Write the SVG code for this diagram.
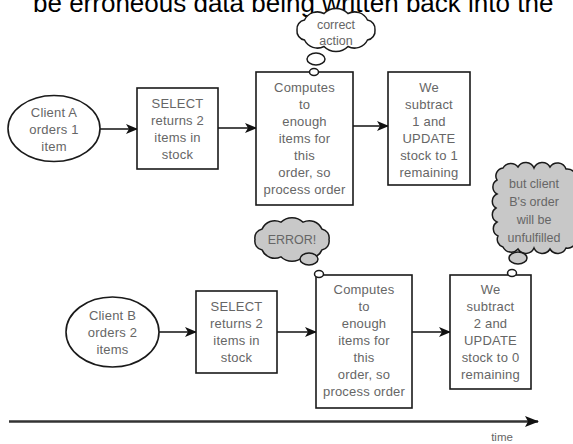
<svg xmlns="http://www.w3.org/2000/svg" width="573" height="444" viewBox="0 0 573 444">
<style>
.box{fill:#fff;stroke:#1a1a1a;stroke-width:1.6}
.cloudW{fill:#fff;stroke:#1a1a1a;stroke-width:1.5}
.cloudG{fill:#c8c8c8;stroke:#1a1a1a;stroke-width:1.5}
.t{font-family:"Liberation Sans",Arial,sans-serif;font-size:13px;letter-spacing:0.2px;fill:#666;text-anchor:middle}
.c{font-family:"Liberation Sans",Arial,sans-serif;font-size:12.5px;fill:#666;text-anchor:middle}
.title{font-family:"Liberation Sans",Arial,sans-serif;font-size:26px;fill:#000}
.conn{stroke:#111;stroke-width:1.6;fill:none;marker-end:url(#ah)}
.axis{stroke:#333;stroke-width:2.5;fill:none;marker-end:url(#ahBig)}
</style>
<defs>
<marker id="ah" viewBox="0 0 12 10" refX="11" refY="5" markerWidth="12" markerHeight="10" markerUnits="userSpaceOnUse" orient="auto">
<path d="M0,0 L12,5 L0,10 L3,5 Z" fill="#111"/>
</marker>
<marker id="ahBig" viewBox="0 0 14 11" refX="13" refY="5.5" markerWidth="14" markerHeight="11" markerUnits="userSpaceOnUse" orient="auto">
<path d="M0,0 L14,5.5 L0,11 L3,5.5 Z" fill="#111"/>
</marker>
</defs>
<rect width="573" height="444" fill="#fff"/>
<text class="title" x="33" y="11.5">be erroneous data being written back into the</text>

<g id="connectors">
<line class="conn" x1="100" y1="129" x2="137" y2="129"/>
<line class="conn" x1="218" y1="128" x2="256" y2="128"/>
<line class="conn" x1="353" y1="126" x2="388" y2="126"/>
<line class="conn" x1="159" y1="332" x2="196" y2="332"/>
<line class="conn" x1="277" y1="332" x2="316" y2="332"/>
<line class="conn" x1="412" y1="332" x2="450" y2="332"/>
<line class="axis" x1="9" y1="421.5" x2="538" y2="421.5"/>
</g>

<g id="clientA">
<ellipse class="box" cx="54" cy="128.5" rx="46" ry="33"/>
<text class="t" x="54" y="117">Client A</text>
<text class="t" x="54" y="134">orders 1</text>
<text class="t" x="54" y="151">item</text>
</g>

<g id="selectA">
<rect class="box" x="137" y="88" width="81" height="81"/>
<text class="t" x="177.5" y="108">SELECT</text>
<text class="t" x="177.5" y="125">returns 2</text>
<text class="t" x="177.5" y="142">items in</text>
<text class="t" x="177.5" y="159">stock</text>
</g>

<g id="computesA">
<rect class="box" x="256" y="72" width="97" height="133"/>
<text class="t" x="304.5" y="92">Computes</text>
<text class="t" x="304.5" y="109">to</text>
<text class="t" x="304.5" y="126">enough</text>
<text class="t" x="304.5" y="143">items for</text>
<text class="t" x="304.5" y="160">this</text>
<text class="t" x="304.5" y="177">order, so</text>
<text class="t" x="304.5" y="194">process order</text>
</g>

<g id="updateA">
<rect class="box" x="388" y="72" width="82" height="113"/>
<text class="t" x="429" y="92">We</text>
<text class="t" x="429" y="109">subtract</text>
<text class="t" x="429" y="126">1 and</text>
<text class="t" x="429" y="143">UPDATE</text>
<text class="t" x="429" y="160">stock to 1</text>
<text class="t" x="429" y="177">remaining</text>
</g>

<g id="cloudCorrect">
<path class="cloudW" d="M297,30 A9,9 0 0 1 304.5,20 A14.4,14.4 0 0 1 324,13.5 A16.8,16.8 0 0 1 348,13.5 A14.4,14.4 0 0 1 367.5,20 A9,9 0 0 1 375,30 A9,9 0 0 1 367.5,40 A14.4,14.4 0 0 1 348,46.5 A16.8,16.8 0 0 1 324,46.5 A14.4,14.4 0 0 1 304.5,40 A9,9 0 0 1 297,30 Z"/>
<ellipse class="cloudW" cx="316" cy="59" rx="9" ry="6"/>
<ellipse class="cloudW" cx="314" cy="72" rx="4.5" ry="3.5"/>
<text class="c" x="336" y="28.5">correct</text>
<text class="c" x="336" y="45">action</text>
</g>

<g id="clientB">
<ellipse class="box" cx="112.5" cy="332" rx="46.5" ry="35"/>
<text class="t" x="112.5" y="320">Client B</text>
<text class="t" x="112.5" y="337">orders 2</text>
<text class="t" x="112.5" y="354">items</text>
</g>

<g id="selectB">
<rect class="box" x="196" y="291" width="81" height="82"/>
<text class="t" x="236.5" y="311">SELECT</text>
<text class="t" x="236.5" y="328">returns 2</text>
<text class="t" x="236.5" y="345">items in</text>
<text class="t" x="236.5" y="362">stock</text>
</g>

<g id="computesB">
<rect class="box" x="316" y="275" width="96" height="133"/>
<text class="t" x="364" y="294">Computes</text>
<text class="t" x="364" y="311">to</text>
<text class="t" x="364" y="328">enough</text>
<text class="t" x="364" y="345">items for</text>
<text class="t" x="364" y="362">this</text>
<text class="t" x="364" y="379">order, so</text>
<text class="t" x="364" y="396">process order</text>
</g>

<g id="updateB">
<rect class="box" x="450" y="275" width="81" height="114"/>
<text class="t" x="490.5" y="294">We</text>
<text class="t" x="490.5" y="311">subtract</text>
<text class="t" x="490.5" y="328">2 and</text>
<text class="t" x="490.5" y="345">UPDATE</text>
<text class="t" x="490.5" y="362">stock to 0</text>
<text class="t" x="490.5" y="379">remaining</text>
</g>

<g id="cloudError">
<path class="cloudG" d="M255,239.5 A9,9 0 0 1 262.2,228.9 A13.6,13.6 0 0 1 280.9,222.2 A15.8,15.8 0 0 1 303.1,222.2 A13.6,13.6 0 0 1 321.8,228.9 A9,9 0 0 1 329,239.5 A9,9 0 0 1 321.8,250.1 A13.6,13.6 0 0 1 303.1,256.8 A15.8,15.8 0 0 1 280.9,256.8 A13.6,13.6 0 0 1 262.2,250.1 A9,9 0 0 1 255,239.5 Z"/>
<ellipse class="cloudG" cx="309" cy="259" rx="9" ry="6"/>
<ellipse class="cloudW" cx="319" cy="274" rx="4.5" ry="3.5"/>
<text class="c" x="292" y="243.5">ERROR!</text>
</g>

<g id="cloudUnfulfilled">
<path class="cloudG" d="M497,180 A8,8 0 0 1 503,168 A9,9 0 0 1 518,167 A9,9 0 0 1 534,168 A9,9 0 0 1 550,167 A9,9 0 0 1 566,169 A9,9 0 0 1 576,180 L576,236 A9,9 0 0 1 566,248 A9,9 0 0 1 550,249 A9,9 0 0 1 534,248 A9,9 0 0 1 518,249 A9,9 0 0 1 503,247 A8,8 0 0 1 498,236 A8,8 0 0 1 497,222 A8,8 0 0 1 496,208 A8,8 0 0 1 497,194 A8,8 0 0 1 497,180 Z"/>
<ellipse class="cloudG" cx="518" cy="258" rx="9" ry="6"/>
<ellipse class="cloudW" cx="512" cy="273" rx="4.5" ry="3.5"/>
<text class="c" x="534" y="188">but client</text>
<text class="c" x="534" y="206">B's order</text>
<text class="c" x="534" y="224">will be</text>
<text class="c" x="534" y="242">unfulfilled</text>
</g>

<g id="timeLabel">
<text class="c" x="502" y="441" style="font-size:11.5px">time</text>
</g>
</svg>
